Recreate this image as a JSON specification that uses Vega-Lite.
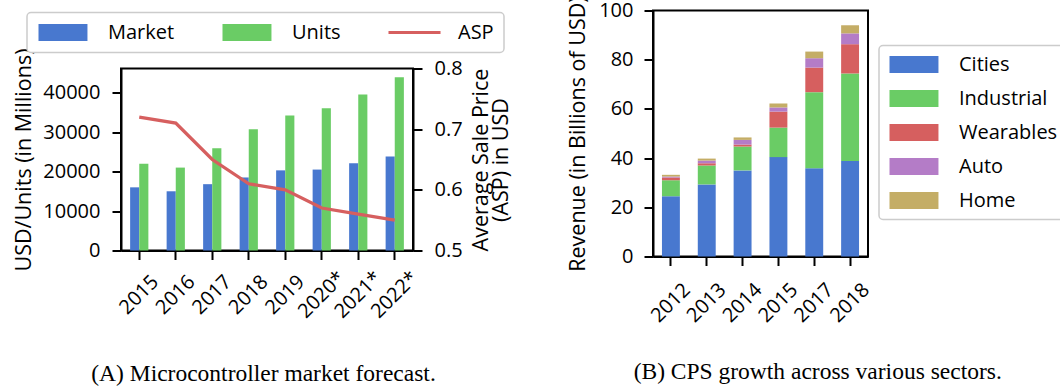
{
  "$schema": "https://vega.github.io/schema/vega-lite/v6.json",
  "padding": {"left": 12, "top": -5.5, "right": 0, "bottom": 0},
  "background": "white",
  "config": {
    "font": "Open Sans",
    "view": {"stroke": "black", "strokeWidth": 2},
    "axis": {"labelFont": "Open Sans", "labelFontSize": 20, "labelColor": "black", "titleFont": "Open Sans", "titleFontSize": 21.5, "titleFontWeight": "normal", "titleColor": "black", "domainColor": "black", "domainWidth": 2, "tickColor": "black", "tickWidth": 2, "tickSize": 9, "grid": false},
    "legend": {"labelFont": "Open Sans", "labelFontSize": 20, "labelColor": "black"}
  },
  "datasets": {
    "mcu": [
      {"year": "2015", "series": "Market", "value": 16000},
      {"year": "2015", "series": "Units", "value": 22000},
      {"year": "2016", "series": "Market", "value": 15000},
      {"year": "2016", "series": "Units", "value": 21000},
      {"year": "2017", "series": "Market", "value": 16800},
      {"year": "2017", "series": "Units", "value": 25900},
      {"year": "2018", "series": "Market", "value": 18500},
      {"year": "2018", "series": "Units", "value": 30700},
      {"year": "2019", "series": "Market", "value": 20300},
      {"year": "2019", "series": "Units", "value": 34200},
      {"year": "2020*", "series": "Market", "value": 20500},
      {"year": "2020*", "series": "Units", "value": 36000},
      {"year": "2021*", "series": "Market", "value": 22100},
      {"year": "2021*", "series": "Units", "value": 39500},
      {"year": "2022*", "series": "Market", "value": 23800},
      {"year": "2022*", "series": "Units", "value": 43900}
    ],
    "asp": [
      {"year": "2015", "series": "ASP", "asp": 0.72},
      {"year": "2016", "series": "ASP", "asp": 0.71},
      {"year": "2017", "series": "ASP", "asp": 0.65},
      {"year": "2018", "series": "ASP", "asp": 0.61},
      {"year": "2019", "series": "ASP", "asp": 0.60},
      {"year": "2020*", "series": "ASP", "asp": 0.57},
      {"year": "2021*", "series": "ASP", "asp": 0.56},
      {"year": "2022*", "series": "ASP", "asp": 0.55}
    ],
    "cps": [
      {"year": "2012", "sector": "Cities", "revenue": 24.5},
      {"year": "2012", "sector": "Industrial", "revenue": 6.5},
      {"year": "2012", "sector": "Wearables", "revenue": 1.1},
      {"year": "2012", "sector": "Auto", "revenue": 0.4},
      {"year": "2012", "sector": "Home", "revenue": 0.7},
      {"year": "2013", "sector": "Cities", "revenue": 29.3},
      {"year": "2013", "sector": "Industrial", "revenue": 7.7},
      {"year": "2013", "sector": "Wearables", "revenue": 0.9},
      {"year": "2013", "sector": "Auto", "revenue": 1.1},
      {"year": "2013", "sector": "Home", "revenue": 0.8},
      {"year": "2014", "sector": "Cities", "revenue": 35.0},
      {"year": "2014", "sector": "Industrial", "revenue": 9.7},
      {"year": "2014", "sector": "Wearables", "revenue": 0.8},
      {"year": "2014", "sector": "Auto", "revenue": 1.9},
      {"year": "2014", "sector": "Home", "revenue": 1.0},
      {"year": "2015", "sector": "Cities", "revenue": 40.4},
      {"year": "2015", "sector": "Industrial", "revenue": 12.0},
      {"year": "2015", "sector": "Wearables", "revenue": 6.5},
      {"year": "2015", "sector": "Auto", "revenue": 1.7},
      {"year": "2015", "sector": "Home", "revenue": 1.6},
      {"year": "2017", "sector": "Cities", "revenue": 35.9},
      {"year": "2017", "sector": "Industrial", "revenue": 30.9},
      {"year": "2017", "sector": "Wearables", "revenue": 10.0},
      {"year": "2017", "sector": "Auto", "revenue": 3.8},
      {"year": "2017", "sector": "Home", "revenue": 2.7},
      {"year": "2018", "sector": "Cities", "revenue": 38.8},
      {"year": "2018", "sector": "Industrial", "revenue": 35.6},
      {"year": "2018", "sector": "Wearables", "revenue": 11.9},
      {"year": "2018", "sector": "Auto", "revenue": 4.4},
      {"year": "2018", "sector": "Home", "revenue": 3.3}
    ]
  },
  "hconcat": [
    {
      "spacing": 1,
      "vconcat": [
        {
          "data": {"values": []},
          "width": 292,
          "height": 35,
          "view": {"stroke": null},
          "mark": {"type": "point", "opacity": 0}
        },
        {
          "width": 292,
          "height": 182,
          "encoding": {
            "x": {"field": "year", "type": "nominal", "sort": null,
              "scale": {"paddingInner": 0.5, "paddingOuter": 0.25},
              "axis": {"labelAngle": -45, "labelAlign": "center", "labelBaseline": "middle", "labelPadding": 35,
                "title": "(A) Microcontroller market forecast.", "titleFont": "Liberation Serif", "titleFontSize": 23.5, "titlePadding": 40, "titleX": 142}}
          },
          "layer": [
            {
              "data": {"name": "mcu"},
              "mark": {"type": "bar"},
              "encoding": {
                "xOffset": {"field": "series", "type": "nominal", "sort": ["Market", "Units"], "scale": {"paddingInner": 0, "paddingOuter": 0}},
                "y": {"field": "value", "type": "quantitative", "scale": {"domain": [0, 46100], "nice": false},
                  "axis": {"values": [0, 10000, 20000, 30000, 40000], "format": "d", "title": "USD/Units (in Millions)", "labelPadding": 12, "titlePadding": 7}},
                "color": {"field": "series", "type": "nominal",
                  "scale": {"domain": ["Market", "Units", "ASP"], "range": ["#4878CF", "#6ACC65", "#D65F5F"]},
                  "legend": {"orient": "none", "legendX": -94, "legendY": 2, "direction": "horizontal", "columns": 3, "title": null,
                    "symbolSize": 289, "labelOffset": 51, "columnPadding": 46, "padding": 10,
                    "strokeColor": "#cccccc", "fillColor": "white", "cornerRadius": 4,
                    "encode": {
                      "symbols": {"update": {
                        "shape": {"signal": "datum.value === 'ASP' ? 'M-1,-0.18H5.12V0.18H-1Z' : 'M-1,-1H4.76V1H-1Z'"},
                        "fill": {"signal": "datum.value === 'Market' ? '#4878CF' : datum.value === 'Units' ? '#6ACC65' : '#D65F5F'"},
                        "stroke": {"value": "transparent"}, "strokeWidth": {"value": 0}, "opacity": {"value": 1}}},
                      "legend": {"update": {"strokeWidth": {"value": 1.5}}}
                    }}}
              }
            },
            {
              "data": {"name": "asp"},
              "mark": {"type": "line", "strokeWidth": 3.3},
              "encoding": {
                "y": {"field": "asp", "type": "quantitative", "scale": {"domain": [0.5, 0.8], "nice": false},
                  "axis": {"orient": "right", "values": [0.5, 0.6, 0.7, 0.8], "format": ".1f", "title": ["Average Sale Price", "(ASP) in USD"],
                    "titleAngle": 270, "titleBaseline": "top", "titleLineHeight": 20, "labelPadding": 12, "titlePadding": -12}},
                "color": {"field": "series", "type": "nominal"}
              }
            }
          ],
          "resolve": {"scale": {"y": "independent"}}
        }
      ]
    },
    {
      "data": {"name": "cps"},
      "transform": [{"window": [{"op": "row_number", "as": "rowIdx"}]}],
      "width": 215,
      "height": 246,
      "title": {"text": "(B) CPS growth across various sectors.", "orient": "bottom", "frame": "bounds", "anchor": "middle", "font": "Liberation Serif", "fontSize": 23.5, "fontWeight": "normal", "offset": 34, "baseline": "top", "color": "black"},
      "mark": {"type": "bar"},
      "encoding": {
        "x": {"field": "year", "type": "nominal", "sort": null,
          "scale": {"paddingInner": 0.5, "paddingOuter": 0.25},
          "axis": {"labelAngle": -45, "labelAlign": "center", "labelBaseline": "middle", "labelPadding": 37, "title": null}},
        "y": {"field": "revenue", "type": "quantitative", "stack": "zero", "scale": {"domain": [0, 100], "nice": false},
          "axis": {"values": [0, 20, 40, 60, 80, 100], "title": "Revenue (in Billions of USD)", "labelPadding": 11, "titlePadding": 9}},
        "order": {"field": "rowIdx", "type": "quantitative"},
        "color": {"field": "sector", "type": "nominal", "sort": ["Cities", "Industrial", "Wearables", "Auto", "Home"],
          "scale": {"domain": ["Cities", "Industrial", "Wearables", "Auto", "Home"], "range": ["#4878CF", "#6ACC65", "#D65F5F", "#B47CC7", "#C4AD66"]},
          "legend": {"orient": "none", "legendX": 226, "legendY": 35, "direction": "vertical", "title": null,
            "symbolSize": 289, "labelOffset": 51, "rowPadding": 14, "padding": 9,
            "strokeColor": "#cccccc", "fillColor": "white", "cornerRadius": 4,
            "encode": {
              "symbols": {"update": {
                "shape": {"value": "M-1,-1H4.76V1H-1Z"},
                "stroke": {"value": "transparent"}, "strokeWidth": {"value": 0}, "opacity": {"value": 1}}},
              "legend": {"update": {"strokeWidth": {"value": 1.5}}}
            }}}
      }
    }
  ],
  "resolve": {"scale": {"color": "independent"}, "legend": {"color": "independent"}},
  "spacing": 53
}
